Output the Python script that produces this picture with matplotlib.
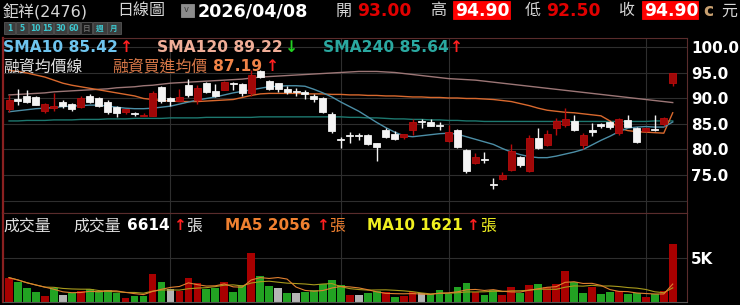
import numpy as np
import pandas as pd
import matplotlib
matplotlib.use('Agg')
import matplotlib.pyplot as plt
from matplotlib.patches import Rectangle

# daily candles, oldest first (price in 元)
opens = [87.9, 89.9, 90.5, 90.2, 87.6, 88.1, 89.3, 88.9, 88.4, 90.5,
         90.0, 89.4, 88.4, 87.4, 87.2, 86.6, 86.6, 92.3, 90.1, 89.6,
         92.6, 89.8, 93.0, 91.5, 91.7, 92.9, 92.8, 91.0, 95.3, 93.5,
         93.0, 91.9, 91.3, 91.2, 90.5, 90.0, 86.9, 82.0, 82.7, 82.8,
         82.8, 81.2, 83.8, 83.0, 82.4, 83.8, 85.4, 85.3, 84.8, 81.7,
         83.8, 79.9, 77.4, 78.1, 73.2, 74.2, 75.9, 78.6, 75.8, 82.2,
         80.9, 84.2, 84.8, 85.6, 80.9, 83.8, 85.0, 85.3, 83.2, 85.8,
         84.2, 83.6, 84.0, 85.0, 93.0]
highs = [90.7, 91.9, 91.7, 90.4, 89.2, 91.0, 89.7, 89.1, 90.5, 90.8,
         90.2, 89.8, 88.6, 88.0, 87.4, 87.1, 91.5, 92.4, 90.3, 91.8,
         93.8, 92.6, 93.2, 92.8, 93.4, 93.3, 93.0, 95.6, 95.6, 93.7,
         93.1, 92.4, 92.0, 91.6, 90.9, 90.2, 87.4, 82.5, 83.5, 83.3,
         83.0, 81.3, 84.2, 83.7, 83.1, 86.0, 86.0, 85.9, 85.3, 84.9,
         84.0, 80.0, 79.3, 79.5, 74.5, 75.6, 81.0, 78.7, 82.8, 84.2,
         83.9, 86.2, 88.2, 86.7, 83.2, 85.1, 85.2, 85.5, 86.2, 86.7,
         84.4, 84.3, 86.8, 86.4, 94.9]
lows = [87.4, 88.7, 89.2, 88.7, 87.1, 87.6, 88.2, 87.6, 88.2, 89.1,
        88.3, 87.0, 86.4, 87.0, 86.6, 86.5, 86.5, 89.1, 88.5, 89.5,
        90.2, 88.9, 91.0, 90.3, 91.6, 91.7, 90.4, 90.5, 94.0, 91.6,
        91.3, 90.8, 90.5, 89.9, 89.3, 87.2, 83.2, 80.2, 81.3, 81.9,
        80.8, 77.8, 82.3, 81.8, 82.0, 82.8, 84.3, 84.6, 83.8, 81.5,
        80.2, 75.3, 77.2, 77.3, 72.2, 74.0, 75.8, 76.6, 75.6, 80.0,
        80.7, 82.8, 84.5, 83.6, 80.0, 82.6, 84.2, 84.0, 82.9, 84.4,
        81.3, 83.4, 83.6, 84.6, 92.5]
closes = [89.7, 89.6, 89.4, 88.8, 89.0, 88.5, 88.5, 88.0, 90.0, 89.3,
          88.5, 87.3, 87.2, 87.9, 87.0, 86.8, 91.0, 89.5, 89.5, 90.2,
          90.7, 92.0, 91.2, 90.4, 93.2, 92.8, 91.0, 94.6, 94.2, 91.8,
          91.8, 91.2, 91.2, 90.8, 89.9, 87.4, 83.7, 81.9, 82.6, 82.6,
          81.1, 80.4, 82.4, 82.1, 83.0, 85.3, 85.3, 84.7, 84.6, 83.5,
          80.4, 75.8, 78.6, 78.0, 73.1, 75.0, 79.7, 76.9, 82.2, 80.2,
          83.0, 85.6, 85.9, 83.8, 82.8, 83.4, 84.6, 84.5, 85.9, 84.5,
          81.5, 84.2, 83.9, 86.2, 94.9]

sma10 = [87.4, 87.6, 87.8, 88.0, 88.1, 88.2, 88.4, 88.5, 88.6, 88.7,
         88.7, 88.5, 88.3, 88.1, 88.0, 88.0, 88.1, 88.3, 88.5, 88.9,
         89.3, 89.7, 90.0, 90.3, 90.7, 91.1, 91.4, 91.7, 92.0, 92.3,
         92.4, 92.5, 92.5, 92.4, 91.8, 91.1, 90.3, 89.3, 88.4, 87.5,
         86.4, 85.3, 84.3, 83.4, 82.7, 82.5, 82.7, 82.9, 83.1, 83.2,
         83.0, 82.5, 82.0, 81.5, 81.0, 80.2, 79.5, 79.0, 78.6, 78.4,
         78.4, 78.7, 79.1, 79.5, 80.0, 80.9, 81.8, 82.6, 83.5, 84.2,
         84.4, 84.5, 84.4, 84.4, 85.4]
sma120 = [90.7, 90.8, 90.9, 91.0, 91.1, 91.3, 91.4, 91.5, 91.6, 91.7,
          91.8, 91.9, 92.1, 92.2, 92.3, 92.5, 92.6, 92.8, 93.0, 93.1,
          93.2, 93.3, 93.4, 93.5, 93.6, 93.7, 93.8, 94.0, 94.2, 94.3,
          94.4, 94.5, 94.6, 94.7, 94.8, 94.9, 95.0, 95.1, 95.2, 95.3,
          95.3, 95.3, 95.2, 95.1, 94.9, 94.7, 94.5, 94.3, 94.1, 93.9,
          93.8, 93.7, 93.6, 93.4, 93.2, 93.0, 92.8, 92.6, 92.4, 92.2,
          92.0, 91.8, 91.6, 91.4, 91.2, 91.0, 90.8, 90.6, 90.4, 90.2,
          90.0, 89.8, 89.6, 89.4, 89.2]
sma240 = [85.6, 85.6, 85.7, 85.7, 85.7, 85.8, 85.8, 85.8, 85.9, 85.9,
          85.9, 86.0, 86.0, 86.0, 86.1, 86.1, 86.1, 86.1, 86.2, 86.2,
          86.2, 86.2, 86.3, 86.3, 86.3, 86.3, 86.3, 86.3, 86.4, 86.4,
          86.4, 86.4, 86.4, 86.4, 86.4, 86.4, 86.4, 86.4, 86.3, 86.3,
          86.2, 86.2, 86.1, 86.0, 86.0, 85.9, 85.9, 85.8, 85.8, 85.7,
          85.7, 85.6, 85.6, 85.5, 85.5, 85.5, 85.5, 85.5, 85.5, 85.5,
          85.5, 85.5, 85.5, 85.5, 85.5, 85.5, 85.5, 85.5, 85.5, 85.5,
          85.5, 85.5, 85.6, 85.6, 85.6]
margin_cost = [95.5, 95.3, 95.0, 94.6, 94.2, 93.6, 93.0, 92.6, 92.3, 92.0,
               91.7, 91.4, 91.1, 90.8, 90.5, 90.0, 89.8, 89.6, 89.5, 89.4,
               89.4, 89.4, 89.5, 89.6, 89.7, 89.8, 90.2, 90.6, 90.9, 91.0,
               91.0, 91.0, 91.0, 90.9, 90.9, 90.9, 90.8, 90.8, 90.7, 90.7,
               90.6, 90.6, 90.5, 90.5, 90.4, 90.3, 90.3, 90.2, 90.2, 90.1,
               90.1, 90.0, 90.0, 89.9, 89.8, 89.6, 89.4, 89.0, 88.6, 88.1,
               87.7, 87.5, 87.3, 87.2, 87.0, 86.8, 86.6, 85.6, 84.2, 83.7,
               83.5, 83.4, 83.3, 83.2, 87.2]

# volume in 張, colour code: r up / g down / w flat
volumes = [2790, 2260, 1570, 1180, 720, 1570, 800, 1070, 1260, 1450,
           1260, 1380, 1000, 420, 720, 720, 3170, 2260, 1490, 1260,
           2790, 2140, 1450, 1640, 2330, 1110, 1950, 5580, 3020, 1830,
           1640, 1070, 1000, 1110, 1380, 2030, 2490, 1950, 800, 800,
           1000, 1260, 1110, 610, 720, 1110, 1000, 880, 1380, 880,
           1680, 2140, 1110, 800, 1340, 800, 1720, 1030, 1950, 2060,
           1680, 2060, 3520, 2290, 1070, 1750, 880, 1120, 1260, 920,
           980, 570, 860, 1260, 6614]
vol_dir = ("rgggrgwgrg" "gggrggrgwr" "rrggrggrgg" "wgwgggggrw"
           "ggrgrrwggg" "ggrggrrgrg" "rrrggrggrg" "grgrr")

month_marks = [18, 37, 49, 71]
price_ticks = [75, 80, 85, 90, 95, 100]
price_grid = [70, 75, 80, 85, 90, 95, 100]

W, H = 740, 305
def fx(x): return x / W
def fy(y): return 1 - y / H

plt.rcParams['font.family'] = ['DejaVu Sans', 'Noto Sans CJK TC']

fig = plt.figure(figsize=(7.4, 3.05), dpi=100, facecolor='black')
ax = fig.add_axes([fx(3), fy(213), fx(687) - fx(3), fy(38) - fy(213)])
vax = fig.add_axes([fx(3), fy(302), fx(687) - fx(3), fy(213) - fy(302)])

n = len(closes)
k = np.arange(n)
o, h, l, c = map(np.array, (opens, highs, lows, closes))

for a in (ax, vax):
    a.set_facecolor('black')
    a.set_xlim(-0.67, 75.59)
    a.set_xticks([])
    for m in month_marks:
        a.axvline(m, color='#2e2e2e', lw=0.8, zorder=0)
    for s in a.spines.values():
        s.set_color('#5a2c2c')
    a.spines['left'].set_color('#8a2020')
    a.spines['left'].set_linewidth(1.6)

# price panel
ax.set_ylim(67.55, 101.86)
for v in price_grid:
    ax.axhline(v, color='#2e2e2e', lw=0.8, zorder=0)
ax.plot(k, sma240, color='#1d786f', lw=1, zorder=1)
ax.plot(k, sma120, color='#9c7676', lw=1, zorder=1)
ax.plot(k, margin_cost, color='#d9692e', lw=1, zorder=1)
ax.plot(k, sma10, color='#4c8ea6', lw=1, zorder=1)

up = c > o
wick_col = np.where(up, '#b80c0c', '#f2f2f2')
body_col = np.where(up, '#a00808', '#f4f4f4')
ax.vlines(k, l, h, colors=wick_col, lw=1, zorder=2)
ax.bar(k, np.maximum(np.abs(c - o), 0.2), bottom=np.minimum(o, c), width=0.78,
       color=body_col, edgecolor=wick_col, linewidth=0.6, zorder=3)

ax.yaxis.tick_right()
ax.set_yticks(price_ticks)
ax.set_yticklabels([f'{v:.1f}' for v in price_ticks])
ax.tick_params(axis='y', length=0, pad=3, labelcolor='white', labelsize=10.9)
for t in ax.get_yticklabels():
    t.set_fontweight('bold')

# volume panel
vcolors = {'r': '#a80000', 'g': '#22a222', 'w': '#b4b4b4'}
vax.set_ylim(0, 10200)
vax.axhline(5000, color='#2e2e2e', lw=0.8, zorder=0)
vax.bar(k, volumes, width=0.86, color=[vcolors[d] for d in vol_dir], zorder=2)
vol = pd.Series(volumes, dtype=float)
vax.plot(k, vol.rolling(10, min_periods=1).mean(), color='#a89a1c', lw=0.8, zorder=3)
vax.plot(k, vol.rolling(5, min_periods=1).mean(), color='#e08030', lw=0.8, zorder=3)
vax.yaxis.tick_right()
vax.set_yticks([5000])
vax.set_yticklabels(['5K'])
vax.tick_params(axis='y', length=0, pad=3, labelcolor='white', labelsize=10.9)
for t in vax.get_yticklabels():
    t.set_fontweight('bold')
vax.spines['bottom'].set_color('#555555')


def txt(x, y, s, color, size=11.2, weight='bold'):
    fig.text(fx(x), fy(y), s, color=color, fontsize=size, fontweight=weight,
             ha='left', va='center')


def box(x0, y0, x1, y1, color, edge=None):
    fig.patches.append(Rectangle((fx(x0), fy(y1)), fx(x1) - fx(x0), fy(y0) - fy(y1),
                                 transform=fig.transFigure, facecolor=color,
                                 edgecolor=edge or color, lw=0.6))


# header
grey = '#d6d6d6'
txt(3, 11, '鉅祥(2476)', grey, 11.5, 'normal')
txt(117, 11, '日線圖', grey, 11.5, 'normal')
box(181, 4, 194, 17, '#8c8c8c')
txt(184, 10, 'v', '#3a3a3a', 6, 'normal')
txt(198, 11, '2026/04/08', 'white', 12.6)
txt(336, 11, '開', grey, 11.5, 'normal')
txt(357, 11, '93.00', '#e00000', 12.3)
txt(430, 11, '高', grey, 11.5, 'normal')
box(453, 1, 510, 19, '#ff0000')
txt(455, 11, '94.90', 'white', 12.3)
txt(525, 11, '低', grey, 11.5, 'normal')
txt(546, 11, '92.50', '#e00000', 12.3)
txt(618, 11, '收', grey, 11.5, 'normal')
box(642, 1, 698, 19, '#ff0000')
txt(644, 11, '94.90', 'white', 12.3)
txt(703, 11, 'c', '#c8a070', 12.3)
txt(721, 11, '元', grey, 11.5, 'normal')

# interval buttons
buttons = [('1', 4, 15), ('5', 16, 28), ('10', 29, 41), ('15', 42, 53), ('30', 54, 67),
           ('60', 68, 80), ('日', 81, 92), ('週', 93, 107), ('月', 107, 121)]
for label, x0, x1 in buttons:
    active = label == '日'
    box(x0, 22, x1, 34, '#1c1c1c' if active else '#3c3c3c', '#555555')
    fig.text(fx((x0 + x1) / 2), fy(28.5), label, color='#666666' if active else '#3cc8d0',
             fontsize=5.5, fontweight='bold', ha='center', va='center')

# price legends
txt(3, 47, 'SMA10 85.42', '#6ec4ee')
txt(120, 47, '↑', '#ff2020')
txt(157, 47, 'SMA120 89.22', '#f0ae98')
txt(285, 47, '↓', '#22d022')
txt(323, 47, 'SMA240 85.64', '#2aa8a0')
txt(450, 47, '↑', '#ff2020')
txt(3, 67, '融資均價線', '#e0e0e0', 11.4, 'normal')
txt(112, 67, '融資買進均價', '#d87848', 11.4, 'normal')
txt(213, 67, '87.19', '#f08448')
txt(266, 67, '↑', '#ff2020')

# volume legends
txt(3, 226, '成交量', '#e0e0e0', 11.4, 'normal')
txt(73, 226, '成交量', '#e0e0e0', 11.4, 'normal')
txt(127, 226, '6614', 'white', 11)
txt(173, 226, '↑', '#ff2020', 11)
txt(186, 226, '張', '#e0e0e0', 11.4, 'normal')
txt(225, 226, 'MA5 2056', '#f08030', 11)
txt(316, 226, '↑', '#ff2020', 11)
txt(329, 226, '張', '#f08030', 11.4, 'normal')
txt(367, 226, 'MA10 1621', '#f0f020', 11)
txt(466, 226, '↑', '#ff2020', 11)
txt(480, 226, '張', '#f0f020', 11.4, 'normal')

fig.savefig('out.png', dpi=100, facecolor='black')
